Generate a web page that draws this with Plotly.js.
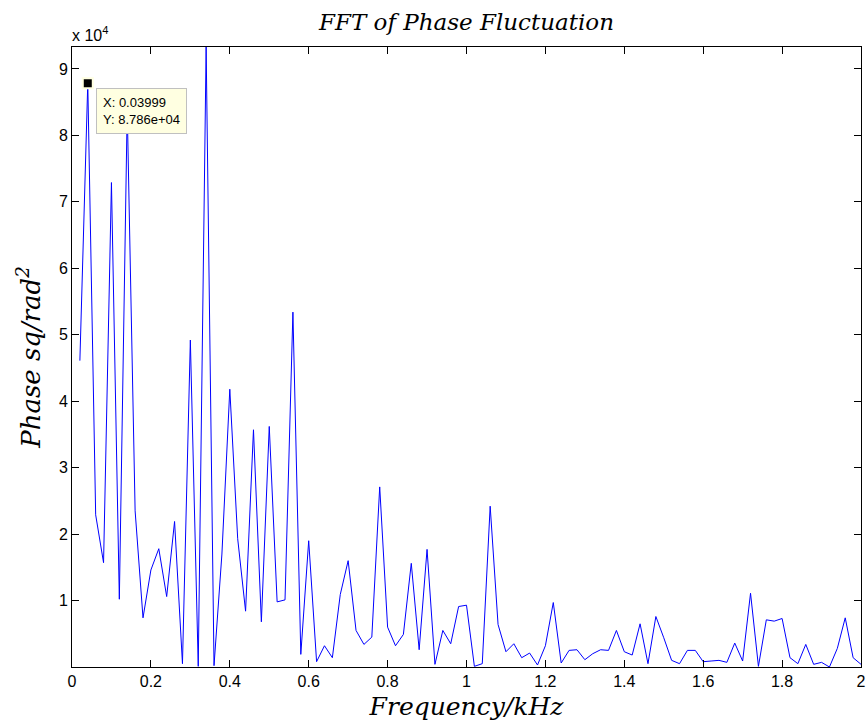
<!DOCTYPE html>
<html>
<head>
<meta charset="utf-8">
<script src="https://cdn.plot.ly/plotly-3.0.1.min.js"></script>
<style>html,body{margin:0;padding:0;background:#fff;}#chart{width:868px;height:728px;}</style>
</head>
<body>
<div id="chart"></div>
<script>
const frequency = [0.02,0.04,0.06,0.08,0.10,0.12,0.14,0.16,0.18,0.20,
  0.22,0.24,0.26,0.28,0.30,0.32,0.34,0.36,0.38,0.40,
  0.42,0.44,0.46,0.48,0.50,0.52,0.54,0.56,0.58,0.60,
  0.62,0.64,0.66,0.68,0.70,0.72,0.74,0.76,0.78,0.80,
  0.82,0.84,0.86,0.88,0.90,0.92,0.94,0.96,0.98,1.00,
  1.02,1.04,1.06,1.08,1.10,1.12,1.14,1.16,1.18,1.20,
  1.22,1.24,1.26,1.28,1.30,1.32,1.34,1.36,1.38,1.40,
  1.42,1.44,1.46,1.48,1.50,1.52,1.54,1.56,1.58,1.60,
  1.62,1.64,1.66,1.68,1.70,1.72,1.74,1.76,1.78,1.80,
  1.82,1.84,1.86,1.88,1.90,1.92,1.94,1.96,1.98,2.00];
const phasePower = [46100,87860,22900,15700,72900,10200,84000,23500,7400,14600,
  17800,10600,21900,500,49200,100,93300,200,17000,41800,
  19300,8400,35700,6800,36200,9800,10100,53400,1900,19000,
  800,3200,1400,10900,16000,5500,3400,4500,27100,6000,
  3200,4900,15600,2600,17700,400,5500,3500,9100,9300,
  100,500,24200,6400,2300,3500,1400,2100,300,3200,
  9700,600,2500,2600,1100,2000,2600,2500,5500,2300,
  1800,6500,500,7600,4400,1000,500,2500,2500,800,
  900,1000,700,3600,900,11100,100,7100,6900,7300,
  1400,500,3400,400,700,0,2800,7400,1400,400];
const xTickVals = [0,0.2,0.4,0.6,0.8,1,1.2,1.4,1.6,1.8,2];
const xTickText = ['0','0.2','0.4','0.6','0.8','1','1.2','1.4','1.6','1.8','2'];
const yTickVals = [10000,20000,30000,40000,50000,60000,70000,80000,90000];
const yTickText = ['1','2','3','4','5','6','7','8','9'];
const tipX = [0.04];
const tipY = [87860];
const tipLabelX = ['0.03999'];
const tipLabelY = ['8.786e+04'];

const serif = 'DejaVu Serif, Liberation Serif, serif';
const sans = 'Liberation Sans, Arial, sans-serif';

const traces = [
  {x: frequency, y: phasePower, type: 'scatter', mode: 'lines',
   line: {color: '#0000FF', width: 1}, hoverinfo: 'skip'},
  {x: tipX, y: tipY, type: 'scatter', mode: 'markers',
   marker: {symbol: 'square', size: 10, color: '#000000', line: {color: '#FFFFE1', width: 2}},
   cliponaxis: false, hoverinfo: 'skip'}
];

const axisCommon = {
  showline: true, linecolor: '#000', linewidth: 1, mirror: 'ticks',
  ticks: 'inside', ticklen: 7, tickcolor: '#000', tickwidth: 1,
  showgrid: false, zeroline: false,
  tickfont: {family: sans, size: 16, color: '#000'}
};

const layout = {
  width: 868, height: 728,
  margin: {l: 72, r: 7, t: 47, b: 61},
  paper_bgcolor: '#fff', plot_bgcolor: '#fff',
  showlegend: false,
  title: {text: '<i>FFT of Phase Fluctuation</i>', font: {family: serif, size: 23, color: '#000'},
          x: 0.5, xref: 'paper', y: 1 - 22/728, yref: 'container', yanchor: 'middle'},
  xaxis: Object.assign({}, axisCommon, {
    range: [0, 2], tickvals: xTickVals, ticktext: xTickText,
    title: {text: '<i>Frequency/kHz</i>', font: {family: serif, size: 25, color: '#000'}, standoff: 8}
  }),
  yaxis: Object.assign({}, axisCommon, {
    range: [0, 93300], tickvals: yTickVals, ticktext: yTickText,
    title: {text: '<i>Phase sq/rad<sup>2</sup></i>', font: {family: serif, size: 26, color: '#000'}, standoff: 10}
  }),
  annotations: [
    {xref: 'paper', yref: 'paper', x: 0, y: 1, xanchor: 'left', yanchor: 'bottom',
     text: 'x 10<sup>4</sup>', showarrow: false, font: {family: sans, size: 16, color: '#000'}, yshift: 1, xshift: -2},
    {x: tipX[0], y: tipY[0], xref: 'x', yref: 'y', xanchor: 'left', yanchor: 'top',
     text: 'X: ' + tipLabelX[0] + '<br>Y: ' + tipLabelY[0], align: 'left', showarrow: false,
     font: {family: sans, size: 13, color: '#000'}, bgcolor: '#FFFFE1', bordercolor: '#C0C0C0',
     borderwidth: 1, borderpad: 6, xshift: 8, yshift: -5}
  ]
};

Plotly.newPlot('chart', traces, layout, {displayModeBar: false, staticPlot: true});
</script>
</body>
</html>
